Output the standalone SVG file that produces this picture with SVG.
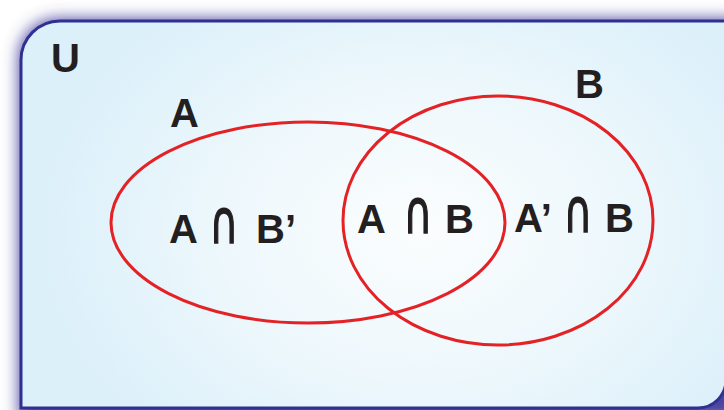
<svg xmlns="http://www.w3.org/2000/svg" width="724" height="410" viewBox="0 0 724 410">
  <defs>
    <radialGradient id="bg" cx="420" cy="230" r="380" gradientUnits="userSpaceOnUse" gradientTransform="translate(420 230) scale(1 0.75) translate(-420 -230)">
      <stop offset="0" stop-color="#fbfdfe"/>
      <stop offset="0.5" stop-color="#eef8fc"/>
      <stop offset="1" stop-color="#dcf0fa"/>
    </radialGradient>
    <filter id="glow" x="-10%" y="-10%" width="120%" height="120%">
      <feGaussianBlur stdDeviation="8"/>
    </filter>
  </defs>
  <style>
    .frame { fill: url(#bg); stroke: #2e3192; stroke-width: 3; }
    .set { fill: none; stroke: #e42226; stroke-width: 3; }
    .lbl { font-family: "Liberation Sans", "DejaVu Sans", sans-serif; font-weight: bold; font-size: 40px; fill: #231f20; }
    .cap { font-family: "DejaVu Sans", sans-serif; font-weight: normal; font-size: 40px; fill: #231f20; stroke: #231f20; stroke-width: 1; }
  </style>
  <rect width="724" height="410" fill="#ffffff"/>
  <g id="universe">
    <path d="M19,420 L19,58 A39,39 0 0 1 58,19 L740,19 L740,420 Z" fill="#4a429f" filter="url(#glow)"/>
    <path class="frame" d="M21,408 L21,60 A39,39 0 0 1 60,21 L726,21 L726,380 A28,28 0 0 1 698,408 Z"/>
    <text class="lbl" x="51" y="72">U</text>
  </g>
  <g id="setA">
    <ellipse class="set" cx="308" cy="222.5" rx="197" ry="100.5"/>
    <text class="lbl" x="170" y="127">A</text>
  </g>
  <g id="setB">
    <ellipse class="set" cx="498" cy="220.5" rx="155" ry="124.5"/>
    <text class="lbl" x="575" y="98">B</text>
  </g>
  <g id="regionAnotB">
    <text class="lbl" x="169" y="243">A</text>
    <text class="cap" x="224" y="243" text-anchor="middle" transform="translate(224 243) scale(1.0 1.5) translate(-224 -243)">∩</text>
    <text class="lbl" x="256" y="243">B’</text>
  </g>
  <g id="regionAandB">
    <text class="lbl" x="357" y="233">A</text>
    <text class="cap" x="418" y="233" text-anchor="middle" transform="translate(418 233) scale(1.0 1.5) translate(-418 -233)">∩</text>
    <text class="lbl" x="445" y="233">B</text>
  </g>
  <g id="regionBnotA">
    <text class="lbl" x="514" y="232">A’</text>
    <text class="cap" x="578" y="232" text-anchor="middle" transform="translate(578 232) scale(1.0 1.5) translate(-578 -232)">∩</text>
    <text class="lbl" x="605" y="232">B</text>
  </g>
  <g id="connectors"/>
</svg>
